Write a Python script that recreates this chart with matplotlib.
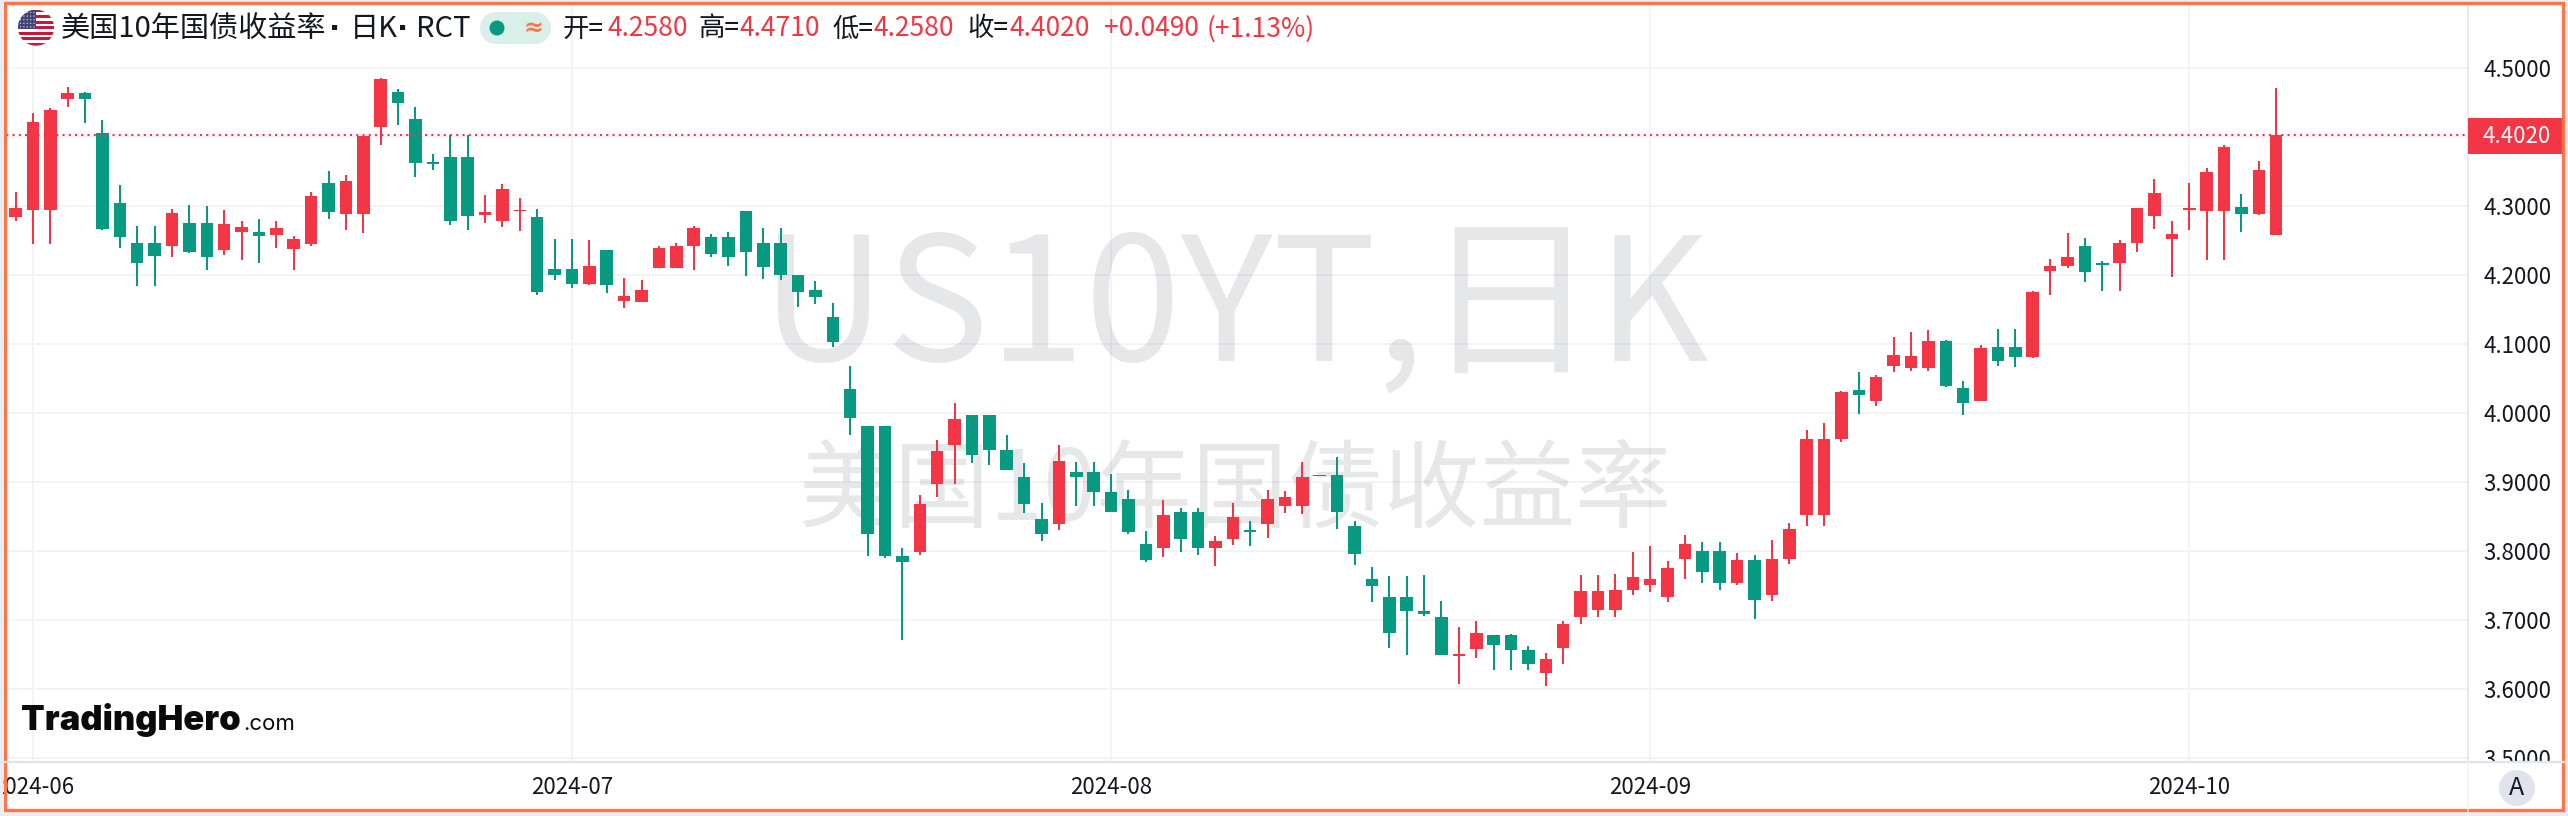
import matplotlib
matplotlib.use("Agg")
import matplotlib.pyplot as plt
from matplotlib.patches import Circle, Rectangle

plt.rcParams["font.family"] = ["Noto Sans CJK SC", "DejaVu Sans"]

UP = "#f23645"
DOWN = "#089981"
GRID = "#f2f3f8"
AXIS = "#e0e3eb"
INK = "#131722"
FRAME = "#ff7547"

opens = [
    4.284, 4.293, 4.293, 4.454, 4.463, 4.405, 4.304, 4.246, 4.246, 4.242,
    4.275, 4.275, 4.236, 4.262, 4.262, 4.258, 4.237, 4.244, 4.333, 4.288,
    4.288, 4.414, 4.465, 4.426, 4.363, 4.370, 4.370, 4.286, 4.278, 4.292,
    4.284, 4.208, 4.208, 4.187, 4.236, 4.162, 4.160, 4.210, 4.210, 4.242,
    4.255, 4.255, 4.292, 4.246, 4.246, 4.200, 4.178, 4.139, 4.034, 3.981,
    3.981, 3.793, 3.798, 3.897, 3.953, 3.997, 3.997, 3.946, 3.907, 3.846,
    3.839, 3.914, 3.914, 3.885, 3.875, 3.810, 3.804, 3.856, 3.856, 3.804,
    3.817, 3.830, 3.839, 3.865, 3.865, 3.910, 3.910, 3.836, 3.759, 3.733,
    3.733, 3.713, 3.704, 3.648, 3.658, 3.678, 3.678, 3.656, 3.623, 3.659,
    3.704, 3.714, 3.714, 3.743, 3.751, 3.733, 3.788, 3.800, 3.800, 3.754,
    3.787, 3.736, 3.788, 3.852, 3.852, 3.962, 4.033, 4.017, 4.068, 4.065,
    4.065, 4.104, 4.036, 4.017, 4.095, 4.095, 4.081, 4.205, 4.213, 4.242,
    4.217, 4.217, 4.246, 4.285, 4.252, 4.294, 4.292, 4.292, 4.298, 4.288,
    4.258,
]
highs = [
    4.320, 4.434, 4.441, 4.472, 4.465, 4.424, 4.330, 4.271, 4.271, 4.295,
    4.301, 4.300, 4.294, 4.278, 4.281, 4.278, 4.256, 4.320, 4.350, 4.344,
    4.401, 4.485, 4.469, 4.443, 4.375, 4.402, 4.402, 4.315, 4.331, 4.311,
    4.295, 4.252, 4.252, 4.250, 4.236, 4.195, 4.192, 4.242, 4.246, 4.271,
    4.259, 4.262, 4.292, 4.268, 4.268, 4.200, 4.191, 4.159, 4.068, 3.981,
    3.981, 3.804, 3.881, 3.961, 4.014, 3.997, 3.997, 3.968, 3.927, 3.869,
    3.953, 3.929, 3.929, 3.911, 3.888, 3.829, 3.874, 3.862, 3.862, 3.822,
    3.869, 3.843, 3.888, 3.887, 3.929, 3.910, 3.936, 3.843, 3.777, 3.764,
    3.764, 3.765, 3.727, 3.690, 3.698, 3.678, 3.680, 3.662, 3.652, 3.698,
    3.765, 3.765, 3.767, 3.798, 3.807, 3.785, 3.823, 3.813, 3.813, 3.797,
    3.794, 3.816, 3.840, 3.975, 3.985, 4.032, 4.059, 4.055, 4.110, 4.117,
    4.120, 4.105, 4.046, 4.098, 4.121, 4.121, 4.176, 4.223, 4.260, 4.253,
    4.220, 4.250, 4.297, 4.339, 4.278, 4.333, 4.355, 4.388, 4.317, 4.365,
    4.471,
]
lows = [
    4.278, 4.245, 4.245, 4.443, 4.420, 4.265, 4.238, 4.184, 4.184, 4.226,
    4.231, 4.207, 4.229, 4.221, 4.217, 4.239, 4.207, 4.242, 4.281, 4.265,
    4.261, 4.388, 4.417, 4.342, 4.352, 4.272, 4.265, 4.275, 4.269, 4.263,
    4.171, 4.192, 4.181, 4.185, 4.174, 4.152, 4.160, 4.210, 4.210, 4.207,
    4.226, 4.213, 4.198, 4.194, 4.192, 4.153, 4.158, 4.095, 3.968, 3.793,
    3.790, 3.671, 3.794, 3.878, 3.897, 3.927, 3.924, 3.917, 3.855, 3.814,
    3.830, 3.865, 3.865, 3.856, 3.825, 3.784, 3.791, 3.798, 3.794, 3.778,
    3.809, 3.807, 3.819, 3.855, 3.853, 3.908, 3.832, 3.780, 3.726, 3.659,
    3.649, 3.706, 3.649, 3.607, 3.645, 3.627, 3.627, 3.627, 3.604, 3.636,
    3.694, 3.704, 3.704, 3.736, 3.740, 3.726, 3.759, 3.754, 3.743, 3.751,
    3.701, 3.727, 3.781, 3.836, 3.836, 3.958, 3.998, 4.010, 4.059, 4.061,
    4.061, 4.037, 3.997, 4.017, 4.068, 4.066, 4.079, 4.171, 4.210, 4.189,
    4.176, 4.177, 4.233, 4.266, 4.197, 4.265, 4.221, 4.221, 4.262, 4.286,
    4.258,
]
closes = [
    4.297, 4.421, 4.439, 4.463, 4.454, 4.266, 4.255, 4.217, 4.227, 4.289,
    4.233, 4.226, 4.273, 4.269, 4.256, 4.268, 4.252, 4.314, 4.291, 4.336,
    4.401, 4.483, 4.449, 4.362, 4.360, 4.278, 4.285, 4.291, 4.324, 4.294,
    4.175, 4.200, 4.187, 4.213, 4.185, 4.169, 4.178, 4.239, 4.242, 4.268,
    4.230, 4.226, 4.233, 4.211, 4.200, 4.175, 4.168, 4.103, 3.992, 3.825,
    3.793, 3.784, 3.868, 3.945, 3.991, 3.939, 3.946, 3.917, 3.868, 3.825,
    3.930, 3.907, 3.885, 3.856, 3.827, 3.787, 3.852, 3.817, 3.804, 3.814,
    3.849, 3.827, 3.875, 3.878, 3.907, 3.908, 3.856, 3.796, 3.749, 3.681,
    3.713, 3.709, 3.649, 3.651, 3.681, 3.664, 3.656, 3.636, 3.643, 3.694,
    3.742, 3.742, 3.743, 3.762, 3.759, 3.775, 3.810, 3.769, 3.754, 3.787,
    3.729, 3.788, 3.832, 3.962, 3.962, 4.030, 4.026, 4.052, 4.084, 4.082,
    4.104, 4.039, 4.014, 4.094, 4.075, 4.081, 4.175, 4.213, 4.226, 4.204,
    4.214, 4.246, 4.297, 4.318, 4.259, 4.297, 4.349, 4.385, 4.288, 4.352,
    4.402,
]

price_ticks = [3.5, 3.6, 3.7, 3.8, 3.9, 4.0, 4.1, 4.2, 4.3, 4.4, 4.5]
month_pos = [1, 32, 63, 94, 125]
month_labels = ["2024-06", "2024-07", "2024-08", "2024-09", "2024-10"]
last_price = 4.402

watermark_big = "US10YT,日K"
watermark_small = "美国10年国债收益率"
# pieces of the title and of the OHLC row, with their left edge in px
title_runs = [("美国10年国债收益率", 61), ("日K", 350), ("RCT", 416)]
title_dots = [335, 403]
header_runs = [
    ("开=", 563, INK), ("4.2580", 607, UP),
    ("高=", 698, INK), ("4.4710", 740, UP),
    ("低=", 832, INK), ("4.2580", 874, UP),
    ("收=", 967, INK), ("4.4020", 1009, UP),
    ("+0.0490", 1104, UP), ("(+1.13%)", 1207, UP),
]

W, H = 2568, 816
PANE_R, PANE_B = 2468, 762
STEP, X0 = 17.39, 15.5
P_TOP, P_SCALE = 67.5, 690.5  # y px of 4.5 and px per 1.0 of price


def px_to_idx(x):
    return (x - X0) / STEP


def px_to_price(y):
    return 4.5 - (y - P_TOP) / P_SCALE


fig = plt.figure(figsize=(W / 100, H / 100), dpi=100, facecolor="white")

ax = fig.add_axes([0, 1 - PANE_B / H, PANE_R / W, PANE_B / H], zorder=1)
ax.set_xlim(px_to_idx(0), px_to_idx(PANE_R))
ax.set_ylim(px_to_price(PANE_B), px_to_price(0))

over = fig.add_axes([0, 0, 1, 1], zorder=5)
over.set_xlim(0, W)
over.set_ylim(H, 0)
over.axis("off")
over.patch.set_alpha(0)
px = over.transData

# grid
ax.set_yticks(price_ticks)
ax.set_yticklabels([f"{p:.4f}" for p in price_ticks], fontsize=16, color=INK)
ax.yaxis.tick_right()
ax.tick_params(axis="y", length=0, pad=10.8)
ax.set_xticks(month_pos)
ax.set_xticklabels([])
ax.tick_params(axis="x", length=0)
ax.grid(color=GRID, linewidth=1.44, zorder=0)
ax.set_axisbelow(True)
for s in ("top", "left", "bottom"):
    ax.spines[s].set_visible(False)
ax.spines["right"].set_color(AXIS)
ax.spines["right"].set_linewidth(1.1)

# watermarks
ax.text(1235, 362, watermark_big, transform=px, fontsize=124.5, color="#787b86",
        alpha=0.18, ha="center", va="baseline", zorder=1)
ax.text(1235, 492, watermark_small, transform=px, fontsize=69, color="#787b86",
        alpha=0.18, ha="center", va="center", zorder=1)

# candles
idx = list(range(len(opens)))
colors = [UP if c >= o else DOWN for o, c in zip(opens, closes)]
ax.vlines(idx, lows, highs, colors=colors, linewidth=1.44, zorder=3)
ax.bar(idx, [abs(c - o) for o, c in zip(opens, closes)],
       bottom=[min(o, c) for o, c in zip(opens, closes)],
       width=0.72, color=colors, linewidth=0, zorder=4)
ax.axhline(last_price, color=UP, linewidth=1.5, linestyle=(0, (1, 2)), zorder=5)

# time scale strip, covers the clipped 3.5000 label
strip = fig.add_axes([0, 0, 1, 1 - PANE_B / H], zorder=3)
strip.set_xlim(px_to_idx(0), px_to_idx(W))
strip.set_ylim(0, 1)
strip.set_yticks([])
strip.set_xticks(month_pos)
strip.set_xticklabels(month_labels, fontsize=16, color=INK)
strip.tick_params(axis="x", length=0, direction="in", pad=-28.5)
for s in strip.spines.values():
    s.set_visible(False)
over.plot([0, W], [PANE_B, PANE_B], color=AXIS, linewidth=1.6)
over.plot([PANE_R, PANE_R], [PANE_B, H], color="#f0f3fa", linewidth=1.1)

# last price tag
over.add_patch(Rectangle((PANE_R, 118), 96, 36, facecolor=UP, edgecolor="none"))
over.text(2551, 136.5, f"{last_price:.4f}", color="white", fontsize=16, ha="right", va="center")

# auto button
over.add_patch(Circle((2517, 788), 18, facecolor=AXIS, edgecolor="none"))
over.text(2517, 788, "A", color=INK, fontsize=18, ha="center", va="center")

# header
for text, x in title_runs:
    over.text(x, 29, text, color=INK, fontsize=21, ha="left", va="center")
for x in title_dots:
    over.text(x, 29, "·", color=INK, fontsize=21, family="DejaVu Sans", fontweight="bold",
              ha="center", va="center")
for text, x, color in header_runs:
    over.text(x, 29, text, color=color, fontsize=19, ha="left", va="center")
over.add_patch(Rectangle((496, 12), 39, 32, facecolor="#d9f0ea", edgecolor="none"))
over.add_patch(Circle((496, 28), 16, facecolor="#d9f0ea", edgecolor="none"))
over.add_patch(Circle((535, 28), 16, facecolor="#d9f0ea", edgecolor="none"))
over.add_patch(Circle((497, 28), 7.5, facecolor=DOWN, edgecolor="none"))
over.text(533, 28, "≈", color=FRAME, fontsize=17, fontweight="bold", family="DejaVu Sans",
          ha="center", va="center")

# flag
flag_clip = Circle((36, 27.7), 18, transform=px)
for i in range(13):
    y = 9.7 + i * 36 / 13
    r = over.add_patch(Rectangle((18, y), 36, 36 / 13, edgecolor="none",
                                 facecolor="#c8173a" if i % 2 == 0 else "white"))
    r.set_clip_path(flag_clip)
canton = over.add_patch(Rectangle((18, 9.7), 18, 19.4, facecolor="#3f4577", edgecolor="none"))
canton.set_clip_path(flag_clip)
for row in range(5):
    for col in range(5):
        d = over.add_patch(Circle((20.5 + col * 3.4, 12.5 + row * 3.6), 0.7,
                                  facecolor="#c6cbe0", edgecolor="none"))
        d.set_clip_path(flag_clip)

# logo
over.text(21, 730, "TradingHero", color="#0a0a0a", fontsize=24.8, fontweight=900,
          family="Inter", ha="left", va="baseline")
over.text(243, 730, ".com", color="#0a0a0a", fontsize=16, family="Inter",
          ha="left", va="baseline")

# outer frame: pale margin then orange line
for rect in [(0, 0, W, 1.7), (0, 0, 3.3, H), (2564, 0, 4, H), (0, 811.5, W, 5)]:
    over.add_patch(Rectangle(rect[:2], rect[2], rect[3], facecolor="#e9ecf3", edgecolor="none"))
over.add_patch(Rectangle((5, 3.2), 2557.5, 806.5, facecolor="none", edgecolor=FRAME, linewidth=2.4))

fig.savefig("out.png", dpi=100)
